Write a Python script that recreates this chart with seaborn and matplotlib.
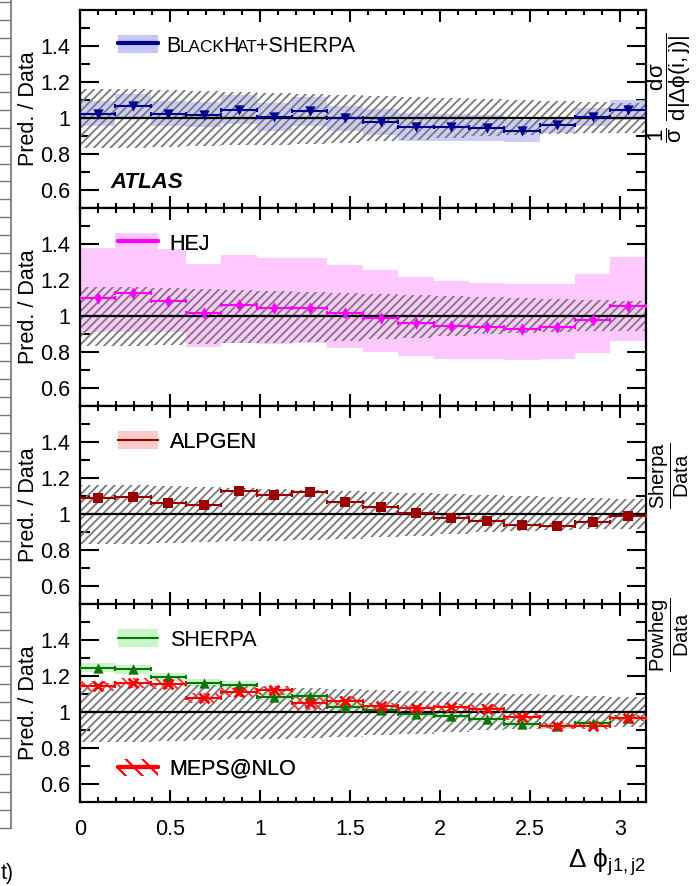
# %% imports
import numpy as np
import pandas as pd
import seaborn as sns
import matplotlib.pyplot as plt
from matplotlib.patches import Patch
from matplotlib.lines import Line2D
from matplotlib.ticker import FixedLocator, FixedFormatter, MultipleLocator
from matplotlib.offsetbox import TextArea, HPacker, AnchoredOffsetbox

# %% values, 16 bins in delta phi (0..pi)
bin_edges = np.linspace(0, np.pi, 17)
x_ticks = [0, 0.5, 1, 1.5, 2, 2.5, 3]
x_ticklabels = ["0", "0.5", "1", "1.5", "2", "2.5", "3"]
y_ticks = [0.6, 0.8, 1.0, 1.2, 1.4]
y_ticklabels = ["0.6", "0.8", "1", "1.2", "1.4"]

# data uncertainty (hatched band), relative to 1
data_unc_up = [0.16, 0.16, 0.155, 0.15, 0.145, 0.14, 0.135, 0.13,
               0.12, 0.115, 0.11, 0.105, 0.10, 0.095, 0.09, 0.085]
data_unc_dn = [0.165, 0.165, 0.16, 0.155, 0.15, 0.148, 0.145, 0.14,
               0.13, 0.12, 0.11, 0.10, 0.095, 0.09, 0.085, 0.085]

blackhat_ratio = [1.024, 1.064, 1.024, 1.018, 1.047, 1.006, 1.037, 0.998,
                  0.978, 0.950, 0.950, 0.945, 0.927, 0.963, 1.006, 1.046]
blackhat_unc = [0.07, 0.07, 0.07, 0.07, 0.08, 0.08, 0.08, 0.07,
                0.07, 0.08, 0.075, 0.07, 0.06, 0.045, 0.05, 0.055]

hej_ratio = [1.099, 1.130, 1.082, 1.018, 1.062, 1.045, 1.045, 1.016,
             0.990, 0.960, 0.943, 0.940, 0.930, 0.940, 0.976, 1.058]
hej_band_hi = [1.378, 1.460, 1.370, 1.287, 1.338, 1.320, 1.320, 1.283,
               1.255, 1.214, 1.192, 1.186, 1.177, 1.180, 1.232, 1.329]
hej_band_lo = [0.912, 0.912, 0.912, 0.826, 0.852, 0.845, 0.852, 0.821,
               0.800, 0.780, 0.762, 0.760, 0.757, 0.760, 0.797, 0.860]

alpgen_ratio = [1.088, 1.092, 1.059, 1.052, 1.129, 1.107, 1.123, 1.065,
                1.037, 1.007, 0.980, 0.961, 0.941, 0.935, 0.954, 0.991]

sherpa_ratio = [1.247, 1.237, 1.192, 1.161, 1.152, 1.086, 1.091, 1.030,
                1.011, 0.989, 0.979, 0.961, 0.933, 0.923, 0.938, 0.966]
sherpa_unc = [0.025, 0.025, 0.022, 0.02, 0.02, 0.02, 0.02, 0.018,
              0.018, 0.015, 0.015, 0.015, 0.015, 0.015, 0.015, 0.015]

meps_ratio = [1.144, 1.161, 1.157, 1.078, 1.110, 1.120, 1.048, 1.063,
              1.032, 1.020, 1.026, 1.017, 0.974, 0.923, 0.923, 0.966]
meps_unc = [0.03, 0.03, 0.03, 0.03, 0.025, 0.025, 0.035, 0.025,
            0.02, 0.02, 0.02, 0.025, 0.02, 0.015, 0.015, 0.015]

# %% style
sns.set_theme(style="ticks")
plt.rcParams["font.family"] = ["Liberation Sans", "DejaVu Sans"]
plt.rcParams["mathtext.fontset"] = "custom"
plt.rcParams["mathtext.rm"] = "Liberation Sans"
plt.rcParams["mathtext.it"] = "Liberation Sans:italic"
plt.rcParams["mathtext.bf"] = "Liberation Sans:bold"
plt.rcParams["hatch.linewidth"] = 1.35
for k in ("text.color", "axes.labelcolor", "xtick.color", "ytick.color", "axes.edgecolor"):
    plt.rcParams[k] = "black"
FS = 15.5

centers = 0.5 * (bin_edges[:-1] + bin_edges[1:])
half_w = 0.5 * np.diff(bin_edges)


def step(vals):
    vals = np.asarray(vals, dtype=float)
    return np.r_[vals, vals[-1]]


def frame(ax):
    one = np.ones(16)
    ax.fill_between(bin_edges, step(one - np.array(data_unc_dn)), step(one + np.array(data_unc_up)),
                    step="post", facecolor="none", edgecolor="#7c7c7c", hatch="////",
                    linewidth=0, zorder=2)
    ax.axhline(1, color="black", lw=1.6, zorder=3)


def finish(ax):
    ax.set_xlim(0, np.pi)
    ax.set_ylim(0.5, 1.6)
    ax.yaxis.set_major_locator(FixedLocator(y_ticks))
    ax.yaxis.set_major_formatter(FixedFormatter(y_ticklabels))
    ax.yaxis.set_minor_locator(FixedLocator([0.7, 0.9, 1.1, 1.3, 1.5]))
    ax.xaxis.set_major_locator(FixedLocator(x_ticks))
    ax.xaxis.set_major_formatter(FixedFormatter(x_ticklabels))
    ax.xaxis.set_minor_locator(MultipleLocator(0.1))
    ax.tick_params(axis="y", which="major", direction="in", length=14, width=1.5,
                   left=True, right=True, labelsize=FS, pad=7)
    ax.tick_params(axis="y", which="minor", direction="in", length=7, width=1.5,
                   left=True, right=True)
    ax.tick_params(axis="x", which="major", direction="in", length=8.5, width=1.5,
                   top=True, bottom=True, labelsize=FS, pad=12)
    ax.tick_params(axis="x", which="minor", direction="in", length=3.8, width=1.5,
                   top=True, bottom=True)
    for s in ax.spines.values():
        s.set_linewidth(1.6)
        s.set_color("black")
    ax.set_xlabel("")
    ax.set_ylabel("Pred. / Data", fontsize=FS)
    ax.yaxis.set_label_coords(-0.073, 0.5)


def series(ax, vals, color, marker, size, lw=1.5, mlw=0):
    ax.errorbar(centers, vals, xerr=half_w, fmt="none", ecolor=color, elinewidth=lw,
                capsize=1.5, capthick=lw, zorder=4)
    df = pd.DataFrame({"x": centers, "y": vals})
    sns.scatterplot(data=df, x="x", y="y", marker=marker, s=size, color=color,
                    edgecolor=color, linewidth=mlw, ax=ax, zorder=5, legend=False)


def key(ax, handle, label, yval):
    leg = ax.legend([handle], [label], loc="center left",
                    bbox_to_anchor=(0.067, (yval - 0.5) / 1.1), frameon=False,
                    borderpad=0, borderaxespad=0, handlelength=1.85, handleheight=0.85,
                    handletextpad=0.55, fontsize=FS)
    ax.add_artist(leg)
    return leg


fig, axes = plt.subplots(4, 1, figsize=(6.96, 8.86), dpi=100, sharex=True,
                         gridspec_kw={"hspace": 0})
fig.subplots_adjust(left=80 / 696, right=645.7 / 696, top=1 - 10 / 886, bottom=84 / 886)
ax1, ax2, ax3, ax4 = axes

# %% panel 1: BlackHat+Sherpa
frame(ax1)
bh = np.array(blackhat_ratio)
ax1.fill_between(bin_edges, step(bh - blackhat_unc), step(bh + blackhat_unc), step="post",
                 facecolor="#c5c5f7", edgecolor="none", alpha=0.85, zorder=1)
series(ax1, blackhat_ratio, "#00008f", "v", 55)
key(ax1, (Patch(facecolor="#c5c5f7", edgecolor="none"), Line2D([], [], color="#00008f", lw=3)),
    "", 1.4)
# small-caps label next to the legend handle
pieces = [("B", FS), ("LACK", 12.4), ("H", FS), ("AT", 12.4), ("+SHERPA", FS)]
label_box = HPacker(children=[TextArea(s, textprops=dict(fontsize=f, color="black"))
                              for s, f in pieces], align="baseline", pad=0, sep=-1)
ax1.add_artist(AnchoredOffsetbox(loc="center left", child=label_box, frameon=False, pad=0,
                                 borderpad=0, bbox_to_anchor=(0.153, (1.4 - 0.5) / 1.1),
                                 bbox_transform=ax1.transAxes))
ax1.text(0.053, 0.103, "ATLAS", transform=ax1.transAxes, fontsize=16, fontweight="bold",
         fontstyle="italic", va="baseline")

# %% panel 2: HEJ
frame(ax2)
ax2.fill_between(bin_edges, step(hej_band_lo), step(hej_band_hi), step="post",
                 facecolor="#ffc8ff", edgecolor="none", zorder=1)
series(ax2, hej_ratio, "#ff00ff", "d", 40)
key(ax2, (Patch(facecolor="#ffc8ff", edgecolor="none"), Line2D([], [], color="#ff00ff", lw=3)),
    "HEJ", 1.4)

# %% panel 3: ALPGEN
frame(ax3)
series(ax3, alpgen_ratio, "#990000", "s", 50)
key(ax3, (Patch(facecolor="#ffcccc", edgecolor="none"), Line2D([], [], color="#990000", lw=1.5)),
    "ALPGEN", 1.4)

# %% panel 4: SHERPA and MEPS@NLO
frame(ax4)
sh = np.array(sherpa_ratio)
ax4.fill_between(bin_edges, step(sh - sherpa_unc), step(sh + sherpa_unc), step="post",
                 facecolor="#c8f7c8", edgecolor="none", zorder=1)
me = np.array(meps_ratio)
ax4.fill_between(bin_edges, step(me - meps_unc), step(me + meps_unc), step="post",
                 facecolor="none", edgecolor="#ff3030", hatch="\\\\\\", linewidth=0, zorder=3.5)
series(ax4, sherpa_ratio, "#0a750a", "^", 55)
series(ax4, meps_ratio, "#ff0000", "x", 50, mlw=2)
key(ax4, (Patch(facecolor="#c8f7c8", edgecolor="none"), Line2D([], [], color="#0a750a", lw=1.5)),
    "SHERPA", 1.4)
key(ax4, (Patch(facecolor="none", edgecolor="#ff0000", hatch="\\\\", linewidth=0),
          Line2D([], [], color="#ff0000", lw=3)), "MEPS@NLO", 0.68)

for ax in axes:
    finish(ax)
for ax in (ax1, ax2, ax3):
    ax.tick_params(axis="x", labelbottom=False)

fig.text(645.7 / 696, 1 - 868 / 886, r"$\Delta\ \mathrm{\phi}_{\mathrm{j1,j2}}$",
         ha="right", va="baseline", fontsize=19)

# %% fragments of the neighbouring figures
axl = fig.add_axes([-0.2, 58 / 886, 0.2 + 11 / 696, 1 - 58 / 886 + 0.01])
for side in ("left", "top", "bottom"):
    axl.spines[side].set_visible(False)
axl.spines["right"].set_color("#777777")
axl.set_ylim(0, 46.6)
axl.set_xticks([])
axl.yaxis.tick_right()
axl.yaxis.set_major_locator(MultipleLocator(1))
axl.tick_params(axis="y", direction="in", length=9, width=1, color="#777777", labelright=False)
fig.text(0.001, 1 - 873 / 886, "t)", fontsize=FS, va="center", ha="left")

fig.text(669 / 696, 1 - 88 / 886,
         r"$\dfrac{1}{\mathrm{\sigma}}\ \dfrac{\mathrm{d\sigma}}{\mathrm{d|\Delta\phi(i,j)|}}$",
         rotation=90, ha="center", va="center", fontsize=16)
fig.text(669 / 696, 1 - 476 / 886, r"$\dfrac{\mathrm{Sherpa}}{\mathrm{Data}}$",
         rotation=90, ha="center", va="center", fontsize=14.5)
fig.text(669 / 696, 1 - 635 / 886, r"$\dfrac{\mathrm{Powheg}}{\mathrm{Data}}$",
         rotation=90, ha="center", va="center", fontsize=14.5)

fig.savefig("out.png", dpi=100)
